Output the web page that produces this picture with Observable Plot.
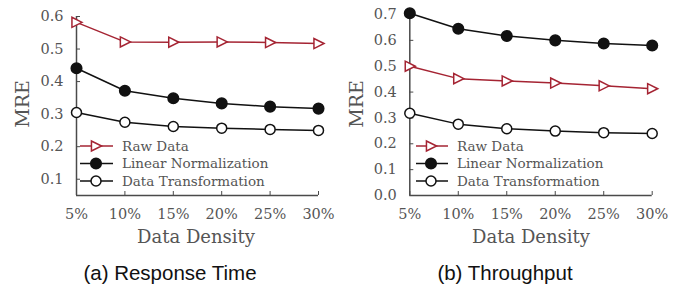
<!DOCTYPE html>
<html><head><meta charset="utf-8">
<script src="https://cdn.jsdelivr.net/npm/d3@7"></script>
<script src="https://cdn.jsdelivr.net/npm/@observablehq/plot@0.6"></script>
<style>
body{margin:0;background:#fff}
#wrap{position:relative;width:685px;height:289px;overflow:hidden;background:#fff}
.panel{position:absolute;top:0}
.lbl{position:absolute;font-family:"DejaVu Serif",serif;color:#555;white-space:nowrap}
.cap{position:absolute;font-family:"Liberation Sans",Arial,sans-serif;font-size:20.5px;color:#111;white-space:nowrap;transform:translateX(-50%);line-height:1}
#legend{position:absolute;left:0;top:0;pointer-events:none}
</style></head><body>
<div id="wrap"></div>
<script>
// ---- data ----
const densities = [5, 10, 15, 20, 25, 30];
const seriesNames = ["Raw Data", "Linear Normalization", "Data Transformation"];
// (a) Response Time
const rtRaw = [0.582, 0.522, 0.521, 0.522, 0.520, 0.517];
const rtLinear = [0.441, 0.372, 0.349, 0.333, 0.323, 0.317];
const rtTransform = [0.305, 0.275, 0.262, 0.257, 0.253, 0.250];
// (b) Throughput
const tpRaw = [0.500, 0.452, 0.443, 0.435, 0.424, 0.413];
const tpLinear = [0.705, 0.645, 0.617, 0.600, 0.588, 0.580];
const tpTransform = [0.318, 0.276, 0.258, 0.249, 0.243, 0.240];
const rtTicks = [0.1, 0.2, 0.3, 0.4, 0.5, 0.6];
const tpTicks = [0.0, 0.1, 0.2, 0.3, 0.4, 0.5, 0.6, 0.7];
const captions = ["(a) Response Time", "(b) Throughput"];

// ---- styles ----
const RED = "#a52433", BLACK = "#111";
const AXIS = "#4a4a4a";
const triRight = {
  draw(ctx, size) {
    const r = Math.sqrt(size / Math.PI);
    ctx.moveTo(r * 1.15, 0);
    ctx.lineTo(-r * 0.95, -r * 1.05);
    ctx.lineTo(-r * 0.95, r * 1.05);
    ctx.closePath();
  }
};
const seriesStyle = [
  {color: RED, symbol: triRight, fill: "#fff", r: 4.8},
  {color: BLACK, symbol: "circle", fill: BLACK, r: 5.3},
  {color: BLACK, symbol: "circle", fill: "#fff", r: 5}
];

const wrap = document.getElementById("wrap");

function table(arrs) {
  const rows = [];
  arrs.forEach((vals, i) => vals.forEach((v, j) => rows.push({s: seriesNames[i], i, d: densities[j], v})));
  return rows;
}

function panel({left, width, marginLeft, marginRight, marginTop, yDomain, yTicks, arrs}) {
  const data = table(arrs);
  const marks = [
    Plot.ruleX([densities[0]], {y1: yDomain[0], y2: yDomain[1], stroke: AXIS, strokeWidth: 1.5}),
    Plot.ruleY([yDomain[0]], {x1: densities[0], x2: densities[densities.length - 1], stroke: AXIS, strokeWidth: 1.5}),
    Plot.axisX({ticks: densities, tickFormat: d => d + "%", tickSize: -4, tickPadding: 17, stroke: AXIS, label: null}),
    Plot.axisY({ticks: yTicks, tickFormat: d3.format(".1f"), tickSize: -4, tickPadding: 17, stroke: AXIS, label: null})
  ];
  seriesNames.forEach((name, i) => {
    const st = seriesStyle[i];
    const sub = data.filter(r => r.i === i);
    marks.push(Plot.line(sub, {x: "d", y: "v", stroke: st.color, strokeWidth: 1.5}));
  });
  seriesNames.forEach((name, i) => {
    const st = seriesStyle[i];
    const sub = data.filter(r => r.i === i);
    marks.push(Plot.dot(sub, {x: "d", y: "v", symbol: st.symbol, r: st.r, stroke: st.color, fill: st.fill, strokeWidth: 1.5}));
  });
  const p = Plot.plot({
    width, height: 250, marginLeft, marginRight, marginTop, marginBottom: 55,
    style: {fontFamily: "DejaVu Serif, serif", fontSize: "14.5px", color: "#555", background: "transparent", overflow: "visible"},
    x: {domain: [densities[0], densities[densities.length - 1]]},
    y: {domain: yDomain},
    marks
  });
  const div = document.createElement("div");
  div.className = "panel";
  div.style.left = left + "px";
  div.appendChild(p);
  wrap.appendChild(div);
}

panel({left: 0, width: 340, marginLeft: 76, marginRight: 22, marginTop: 16, yDomain: [0.05, 0.6], yTicks: rtTicks, arrs: [rtRaw, rtLinear, rtTransform]});
panel({left: 340, width: 345, marginLeft: 69.3, marginRight: 33.3, marginTop: 14, yDomain: [0, 0.7], yTicks: tpTicks, arrs: [tpRaw, tpLinear, tpTransform]});

// axis labels and captions
function addLabel(text, x, y, size, rotate) {
  const el = document.createElement("div");
  el.className = "lbl";
  el.textContent = text;
  el.style.fontSize = size + "px";
  el.style.lineHeight = "1";
  el.style.left = x + "px";
  el.style.top = y + "px";
  el.style.transform = "translate(-50%,-50%)" + (rotate ? " rotate(-90deg)" : "");
  wrap.appendChild(el);
}
addLabel("MRE", 21.5, 104, 19, true);
addLabel("MRE", 355.5, 104, 19, true);
addLabel("Data Density", 196, 237, 18, false);
addLabel("Data Density", 531, 237, 18, false);

[[captions[0], 170], [captions[1], 505]].forEach(([t, x]) => {
  const el = document.createElement("div");
  el.className = "cap";
  el.textContent = t;
  el.style.left = x + "px";
  el.style.top = "263px";
  wrap.appendChild(el);
});

// legends
const svg = d3.select(wrap).append("svg").attr("id", "legend").attr("width", 685).attr("height", 289);
const rowsY = [146, 163.5, 181];
[{x0: 80, x1: 113, mx: 96, tx: 122}, {x0: 416, x1: 448, mx: 431, tx: 457}].forEach(L => {
  seriesNames.forEach((name, i) => {
    const st = seriesStyle[i];
    const y = rowsY[i];
    svg.append("line").attr("x1", L.x0).attr("x2", L.x1).attr("y1", y).attr("y2", y)
      .attr("stroke", st.color).attr("stroke-width", 1.5);
    const sym = typeof st.symbol === "string" ? d3.symbolCircle : st.symbol;
    svg.append("path").attr("transform", `translate(${L.mx},${y})`)
      .attr("d", d3.symbol(sym, Math.PI * st.r * st.r)())
      .attr("fill", st.fill).attr("stroke", st.color).attr("stroke-width", 1.5);
    svg.append("text").attr("x", L.tx).attr("y", y).attr("dy", "0.35em")
      .attr("font-family", "DejaVu Serif, serif").attr("font-size", 13.5).attr("fill", "#555")
      .text(name);
  });
});
</script>
</body></html>
